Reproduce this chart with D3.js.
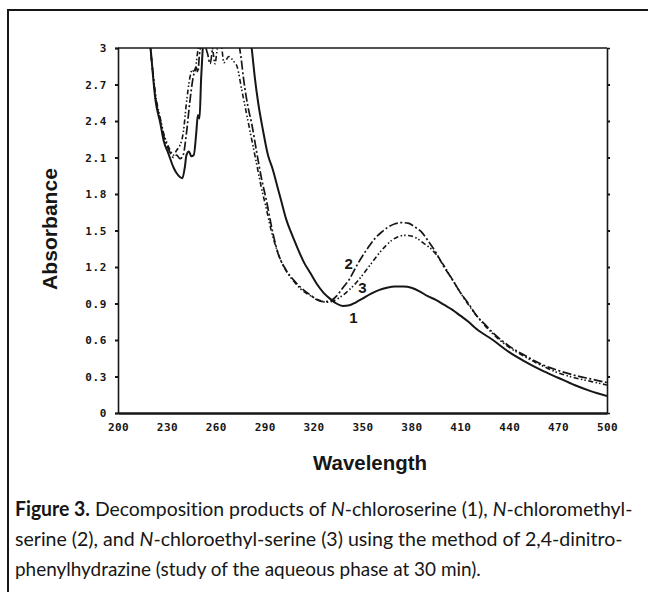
<!DOCTYPE html>
<html>

<head>
    <meta charset="UTF-8">
    <title>Figure 3 - Absorbance</title>
    <script src="https://d3js.org/d3.v7.min.js"></script>
    <style>
        body { margin: 0; background: #fff; }
    </style>
</head>

<body>

    <script>
        // tick labels
        var xTicks = [200, 230, 260, 290, 320, 350, 380, 410, 440, 470, 500];
        var yTicks = [0, 0.3, 0.6, 0.9, 1.2, 1.5, 1.8, 2.1, 2.4, 2.7, 3];

        // curve 1 (solid) - N-chloroserine
        var wl1 = [218, 220, 223, 226, 228, 231, 234, 236, 238, 239.5, 241, 242, 243.5, 245, 246.5, 248, 249, 250, 251, 252, 254, 260, 270, 280,
            282, 284, 286, 289, 292, 295, 298, 300, 303, 306, 310, 314, 318, 322, 326, 330, 334, 338, 342, 346, 350, 355, 360, 365, 370, 375,
            380, 385, 390, 395, 400, 405, 410, 415, 420, 430, 440, 450, 460, 470, 480, 490, 500];
        var abs1 = [3.3, 3.0, 2.57, 2.38, 2.24, 2.13, 2.02, 1.97, 1.94, 1.93, 2.02, 2.12, 2.15, 2.11, 2.12, 2.3, 2.45, 2.42, 2.75, 3.0, 3.3, 3.5, 3.5, 3.2,
            3.0, 2.75, 2.55, 2.32, 2.12, 2.0, 1.85, 1.75, 1.6, 1.49, 1.36, 1.24, 1.15, 1.06, 0.99, 0.94, 0.9, 0.88, 0.885, 0.91, 0.94, 0.98, 1.01, 1.03, 1.04, 1.04,
            1.03, 1.0, 0.96, 0.93, 0.89, 0.85, 0.8, 0.75, 0.69, 0.6, 0.5, 0.42, 0.35, 0.29, 0.23, 0.18, 0.14];

        // curve 2 (dash-dot) - N-chloromethyl-serine
        var wl2 = [219, 221, 223, 226, 228, 230, 232, 234, 236, 238, 240, 242, 244, 246, 248, 249, 250, 252, 255, 256.5, 258, 260, 270, 274,
            275.5, 277, 280, 282, 285, 288, 291, 295, 298, 302, 306, 310, 314, 318, 322, 326, 330, 334, 338, 342, 346, 350, 354, 358, 362, 366,
            370, 374, 378, 382, 386, 390, 395, 400, 405, 410, 415, 420, 425, 430, 440, 450, 460, 470, 480, 490, 500];
        var abs2 = [3.1, 2.85, 2.6, 2.4, 2.28, 2.2, 2.14, 2.1, 2.12, 2.09, 2.12, 2.3, 2.55, 2.75, 2.84, 2.8, 2.95, 3.05, 2.95, 2.87, 3.0, 3.2, 3.3, 3.05,
            2.92, 2.75, 2.5, 2.38, 2.15, 1.93, 1.75, 1.48, 1.32, 1.2, 1.12, 1.06, 1.01, 0.97, 0.93, 0.915, 0.92, 0.96, 1.03, 1.1, 1.2, 1.29, 1.37, 1.44, 1.49, 1.53,
            1.555, 1.565, 1.56, 1.53, 1.49, 1.42, 1.32, 1.2, 1.1, 0.99, 0.9, 0.8, 0.73, 0.66, 0.55, 0.47, 0.4, 0.35, 0.31, 0.28, 0.25];

        // curve 3 (dash-dot-dot) - N-chloroethyl-serine
        var wl3 = [219.5, 221, 223, 226, 228, 230, 232, 234, 236, 238, 240, 242, 244, 245.5, 247, 249, 251, 255, 258, 259.5, 261, 263, 265, 268,
            271, 273, 276, 279, 282, 285, 288, 291, 294, 297, 300, 304, 308, 312, 316, 320, 324, 328, 332, 336, 340, 344, 348, 352, 356, 360,
            364, 368, 372, 376, 380, 384, 388, 392, 396, 400, 405, 410, 415, 420, 425, 430, 440, 450, 460, 470, 480, 490, 500];
        var abs3 = [3.05, 2.85, 2.62, 2.42, 2.3, 2.22, 2.16, 2.12, 2.16, 2.2, 2.3, 2.55, 2.75, 2.82, 2.8, 2.98, 3.1, 3.1, 3.0, 2.87, 3.0, 3.05, 2.88, 2.93,
            2.89, 2.85, 2.65, 2.45, 2.25, 2.05, 1.85, 1.68, 1.5, 1.36, 1.25, 1.15, 1.08, 1.02, 0.98, 0.95, 0.925, 0.91, 0.92, 0.95, 0.99, 1.04, 1.1, 1.17, 1.24, 1.31,
            1.37, 1.42, 1.45, 1.46, 1.455, 1.43, 1.39, 1.35, 1.29, 1.21, 1.1, 0.99, 0.89, 0.8, 0.72, 0.65, 0.54, 0.46, 0.39, 0.33, 0.29, 0.26, 0.23];

        // curve labels, placed in data units
        var curveNames = ["1", "2", "3"];
        var labelWl = [344.5, 341.5, 350];
        var labelAbs = [0.78, 1.23, 1.03];

        var captionLines = [
            [["Figure 3.", "b"], [" Decomposition products of ", ""], ["N", "i"], ["-chloroserine (1), ", ""], ["N", "i"], ["-chloromethyl-", ""]],
            [["serine (2), and ", ""], ["N", "i"], ["-chloroethyl-serine (3) using the method of 2,4-dinitro-", ""]],
            [["phenylhydrazine (study of the aqueous phase at 30 min).", ""]]
        ];
        var captionLengths = [618, 608, 466];

        drawChart();

        function drawChart() {
            var width = 648, height = 592;
            var left = 118, right = 607, top = 48, bottom = 413;
            var ink = "#161616";
            var tickFont = "'DejaVu Sans Mono', monospace";

            var svg = d3.select("body").append("svg")
                .attr("width", width)
                .attr("height", height)
                .style("display", "block")
                .style("background", "#fff");

            // frame of the figure (only top and left edges are visible)
            svg.append("path")
                .attr("d", "M8," + height + "V10H" + width)
                .attr("fill", "none")
                .attr("stroke", ink)
                .attr("stroke-width", 2);

            var x = d3.scaleLinear().domain([200, 500]).range([left, right]);
            var y = d3.scaleLinear().domain([0, 3]).range([bottom, top]);

            svg.append("clipPath").attr("id", "plot-clip")
                .append("rect")
                .attr("x", left).attr("y", top)
                .attr("width", right - left).attr("height", bottom - top);

            // left axis
            var gy = svg.append("g")
                .attr("transform", "translate(" + left + ",0)")
                .call(d3.axisLeft(y).tickValues(yTicks).tickSize(3).tickPadding(8)
                    .tickFormat(function (d) { return (d === 0 || d === 3) ? String(d) : d.toFixed(1); }));
            gy.select(".domain").attr("stroke", ink).attr("stroke-width", 1.6);
            gy.selectAll(".tick line").attr("stroke", ink).attr("stroke-width", 2);
            gy.selectAll(".tick text")
                .attr("fill", ink)
                .style("font-family", tickFont)
                .style("font-weight", "bold")
                .style("font-size", "11px")
                .style("letter-spacing", "0.6px");

            // right axis, ticks only
            var gr = svg.append("g")
                .attr("transform", "translate(" + right + ",0)")
                .call(d3.axisRight(y).tickValues(yTicks.slice(1, -1)).tickSize(3).tickFormat(""));
            gr.select(".domain").attr("stroke", ink).attr("stroke-width", 1.6);
            gr.selectAll(".tick line").attr("stroke", ink).attr("stroke-width", 2);

            // top edge
            svg.append("line")
                .attr("x1", left).attr("x2", right)
                .attr("y1", top).attr("y2", top)
                .attr("stroke", ink).attr("stroke-width", 1.6);

            // bottom axis
            var gx = svg.append("g")
                .attr("transform", "translate(0," + bottom + ")")
                .call(d3.axisBottom(x).tickValues(xTicks).tickSize(0).tickPadding(10));
            gx.select(".domain").attr("stroke", ink).attr("stroke-width", 2.4);
            gx.selectAll(".tick text")
                .attr("fill", ink)
                .style("font-family", tickFont)
                .style("font-weight", "bold")
                .style("font-size", "11px")
                .style("letter-spacing", "0.4px");

            // curves
            var line = d3.line()
                .x(function (d) { return x(d[0]); })
                .y(function (d) { return y(d[1]); })
                .curve(d3.curveMonotoneX);

            var curves = [
                { w: wl1, a: abs1, dash: null, width: 2 },
                { w: wl2, a: abs2, dash: "9,2.5,2,2.5", width: 1.7 },
                { w: wl3, a: abs3, dash: "5,2.5,1.5,2,1.5,2.5", width: 1.6 }
            ];

            var plot = svg.append("g").attr("clip-path", "url(#plot-clip)");
            curves.forEach(function (c) {
                plot.append("path")
                    .attr("d", line(d3.zip(c.w, c.a)))
                    .attr("fill", "none")
                    .attr("stroke", ink)
                    .attr("stroke-width", c.width)
                    .attr("stroke-dasharray", c.dash)
                    .attr("stroke-linejoin", "round");
            });

            // curve numbers
            svg.selectAll(".curve-label")
                .data(curveNames)
                .enter().append("text")
                .attr("class", "curve-label")
                .attr("x", function (d, i) { return x(labelWl[i]); })
                .attr("y", function (d, i) { return y(labelAbs[i]); })
                .attr("dy", "0.35em")
                .attr("text-anchor", "middle")
                .attr("fill", ink)
                .style("font-family", "'Liberation Sans', Arial, sans-serif")
                .style("font-weight", "bold")
                .style("font-size", "15px")
                .text(function (d) { return d; });

            // axis titles
            svg.append("text")
                .attr("transform", "translate(57,229) rotate(-90)")
                .attr("text-anchor", "middle")
                .attr("fill", ink)
                .attr("textLength", 122)
                .attr("lengthAdjust", "spacingAndGlyphs")
                .style("font-family", "'Liberation Sans', Arial, sans-serif")
                .style("font-weight", "bold")
                .style("font-size", "20px")
                .text("Absorbance");

            svg.append("text")
                .attr("x", 370)
                .attr("y", 470)
                .attr("text-anchor", "middle")
                .attr("fill", ink)
                .attr("textLength", 114)
                .attr("lengthAdjust", "spacingAndGlyphs")
                .style("font-family", "'Liberation Sans', Arial, sans-serif")
                .style("font-weight", "bold")
                .style("font-size", "20px")
                .text("Wavelength");

            // caption: natural text squeezed horizontally to the printed width
            captionLines.forEach(function (parts, i) {
                var t = svg.append("text")
                    .attr("fill", ink)
                    .style("font-family", "Lato, 'Open Sans', sans-serif")
                    .style("font-size", "20px")
                    .style("font-variant-ligatures", "none")
                    .style("white-space", "pre");
                parts.forEach(function (p) {
                    t.append("tspan")
                        .style("font-weight", p[1] === "b" ? "bold" : null)
                        .style("font-style", p[1] === "i" ? "italic" : null)
                        .text(p[0]);
                });
                var k = captionLengths[i] / t.node().getComputedTextLength();
                t.attr("transform", "translate(15," + (516 + i * 30) + ") scale(" + k + ",1)");
            });
        }
    </script>
</body>

</html>
